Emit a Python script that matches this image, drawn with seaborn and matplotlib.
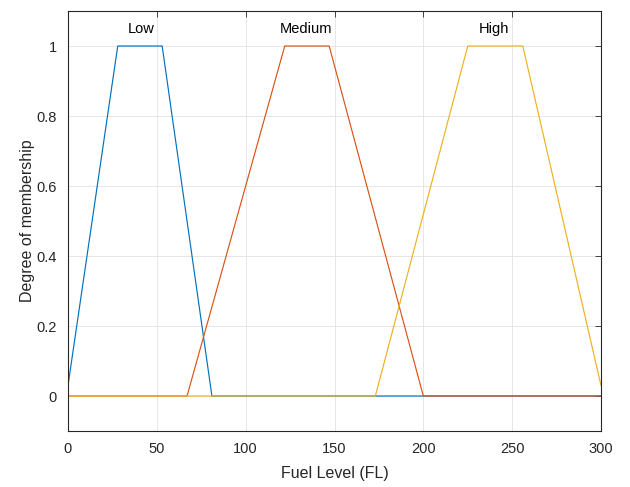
import matplotlib
matplotlib.use("Agg")
import matplotlib.pyplot as plt
import seaborn as sns
import pandas as pd

# Data: vertices of the membership functions
low_x = [0, 28, 53, 81, 300]
low_y = [0.03, 1, 1, 0, 0]
med_x = [0, 67, 122, 147, 200, 300]
med_y = [0, 0, 1, 1, 0, 0]
high_x = [0, 173, 225, 256, 300]
high_y = [0, 0, 1, 1, 0.03]
labels = ["Low", "Medium", "High"]
label_x = [41, 134, 240]
label_y = 1.05
xticks = [0, 50, 100, 150, 200, 250, 300]
yticks = [0, 0.2, 0.4, 0.6, 0.8, 1]

colors = ["#0072BD", "#D95319", "#EDB120"]

frames = []
for name, xs, ys in zip(labels, [low_x, med_x, high_x], [low_y, med_y, high_y]):
    frames.append(pd.DataFrame({"x": xs, "y": ys, "mf": name}))
df = pd.concat(frames, ignore_index=True)

sns.set_style("white")
plt.rcParams["font.family"] = ["Liberation Sans", "DejaVu Sans"]

fig = plt.figure(figsize=(6.3, 4.87), dpi=100)
ax = fig.add_axes([68 / 630, 56 / 487, 533 / 630, 420 / 487])

sns.lineplot(data=df, x="x", y="y", hue="mf", palette=colors, sort=False,
             estimator=None, linewidth=0.85, legend=False, ax=ax)

for name, lx in zip(labels, label_x):
    ax.text(lx, label_y, name, ha="center", va="center", fontsize=10.5, color="black")

ax.set_xlim(0, 300)
ax.set_ylim(-0.1, 1.1)
ax.set_xticks(xticks)
ax.set_yticks(yticks)
ax.set_yticklabels([f"{v:g}" for v in yticks])
ax.grid(True, color="#e3e3e3", linewidth=0.6)
ax.set_axisbelow(True)
ax.tick_params(direction="in", length=4, width=0.6, colors="#262626",
               labelsize=10.5, top=True, right=True, pad=8)
ax.tick_params(axis="both", labelcolor="#262626")
for s in ax.spines.values():
    s.set_color("#262626")
    s.set_linewidth(0.8)
ax.set_xlabel("Fuel Level (FL)", fontsize=11.5, color="#262626", labelpad=7)
ax.set_ylabel("Degree of membership", fontsize=11.5, color="#262626", labelpad=1)

fig.savefig("out.png", dpi=100)
